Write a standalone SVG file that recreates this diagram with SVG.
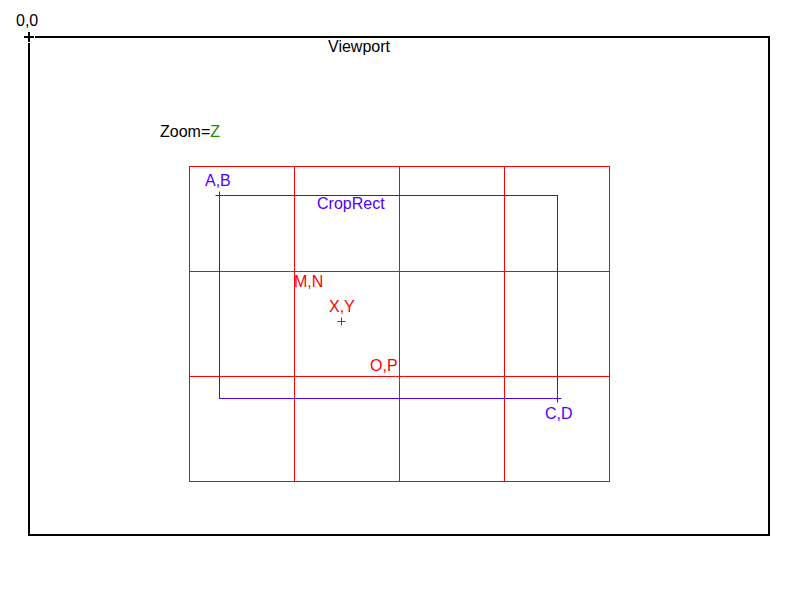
<svg xmlns="http://www.w3.org/2000/svg" width="800" height="600" viewBox="0 0 800 600">
<style>
text{font-family:"Liberation Sans",Arial,sans-serif;font-size:16px}
.red{stroke:#ff0000;stroke-width:1;fill:none}
.blue{stroke:#5000ff;stroke-width:1;fill:none}
.tr{fill:#ff0000}
.tb{fill:#5000ff}
.halo{stroke:#ffffff;stroke-width:3}
</style>
<defs>
<g id="crossR"><path class="halo" d="M-4,0H4M0,-4V4"/><path d="M-4,0H4M0,-4V4" stroke="#ff0000"/></g>
<g id="crossB"><path class="halo" d="M-4,0H4M0,-4V4"/><path d="M-4,0H4M0,-4V4" stroke="#5000ff"/></g>
</defs>
<rect width="800" height="600" fill="#ffffff"/>
<g id="viewport">
<rect x="29" y="37" width="740" height="498" fill="none" stroke="#000" stroke-width="2"/>
<path d="M23,37H35M29,31V43" stroke="#fff" stroke-width="4"/>
<path d="M24,37H34M29,32V42" stroke="#000" stroke-width="2"/>
<text x="16" y="26">0,0</text>
<text x="328" y="52">Viewport</text>
<text x="160" y="137">Zoom=<tspan fill="#228b00">Z</tspan></text>
</g>
<g id="grid">
<rect class="red" x="189.5" y="166.5" width="420" height="315"/>
<path class="red" d="M294.5,166.5V481.5M399.5,166.5V481.5M504.5,166.5V481.5M189.5,271.5H609.5M189.5,376.5H609.5"/>
</g>
<g id="croprect">
<rect class="blue" x="219.5" y="195.5" width="338" height="203"/>
<text class="tb" x="317" y="209">CropRect</text>
</g>
<g id="points">
<use href="#crossB" x="219.5" y="195.5"/>
<text class="tb" x="205" y="186">A,B</text>
<use href="#crossR" x="294.5" y="271.5"/>
<text class="tr" x="294" y="287">M,N</text>
<use href="#crossR" x="341.5" y="321.5"/>
<text class="tr" x="329" y="312">X,Y</text>
<use href="#crossR" x="399.5" y="376.5"/>
<text class="tr" x="370" y="371">O,P</text>
<use href="#crossB" x="557.5" y="398.5"/>
<text class="tb" x="545" y="419">C,D</text>
</g>
</svg>
